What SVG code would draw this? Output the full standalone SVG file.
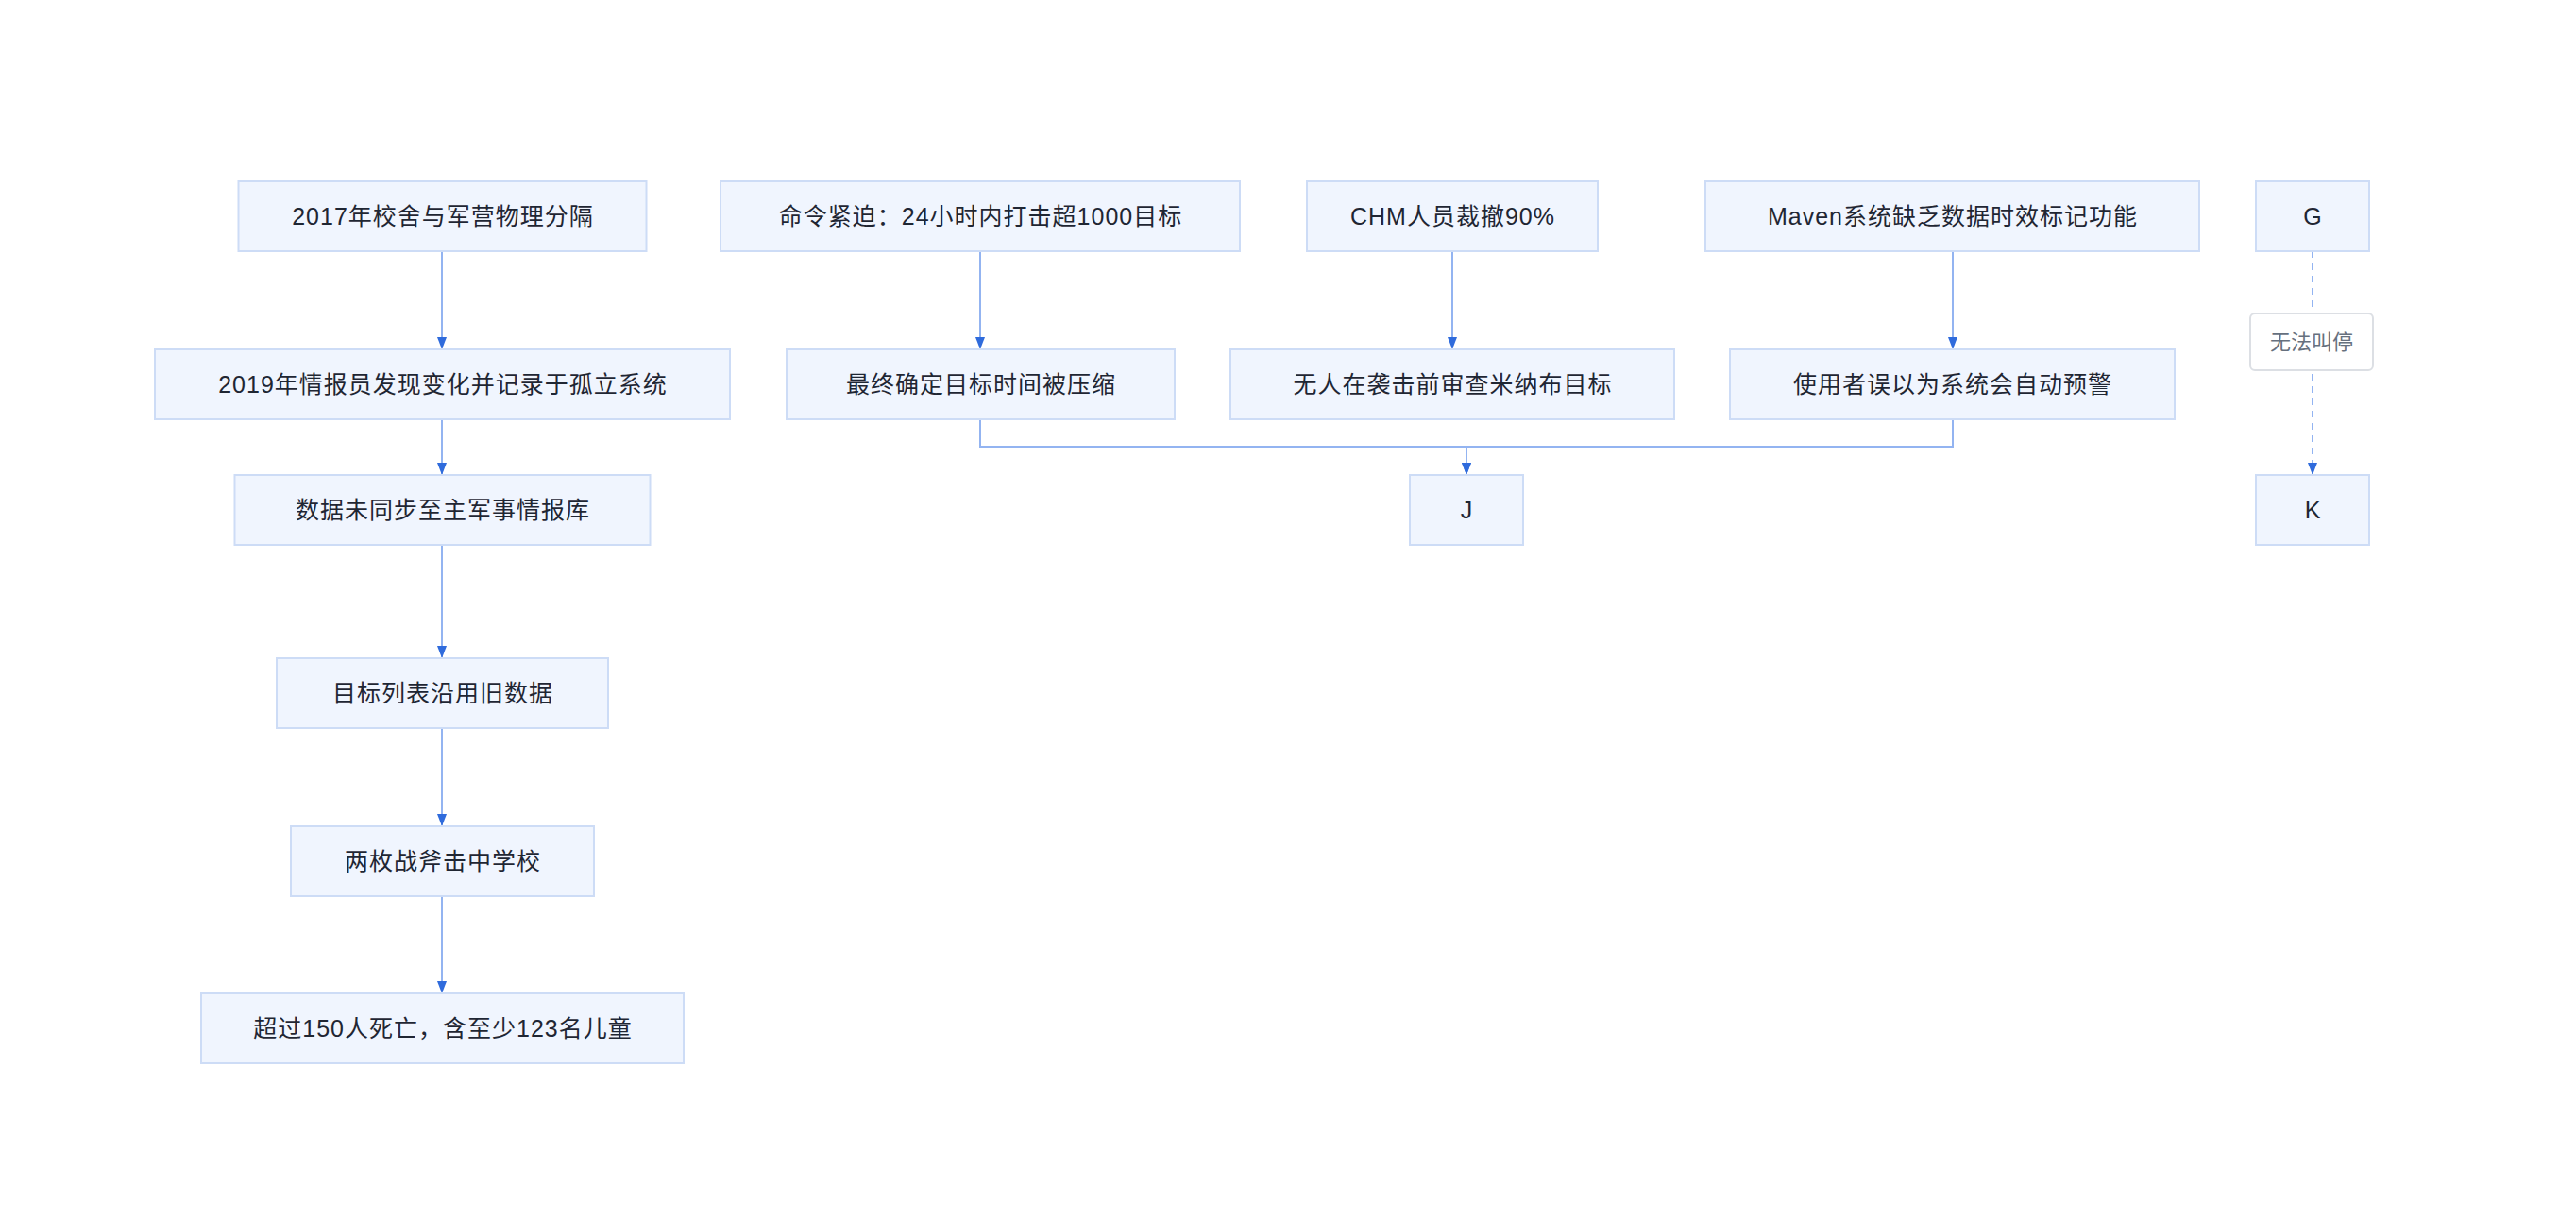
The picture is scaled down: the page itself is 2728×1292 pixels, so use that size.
<svg xmlns="http://www.w3.org/2000/svg" width="2728" height="1292" viewBox="0 0 2728 1292">
<style>
.node rect{fill:#f0f5fe;stroke:#cddcf6;stroke-width:2}
.node text{font-family:"Liberation Sans","Noto Sans CJK SC",sans-serif;font-size:25px;letter-spacing:1px;fill:#1f2633;text-anchor:middle}
.edge{fill:none;stroke:#93b4f1;stroke-width:2}
.dash{stroke-dasharray:7 6}
.lbl rect{fill:#ffffff;stroke:#dcdfe4;stroke-width:2}
.lbl text{font-family:"Liberation Sans","Noto Sans CJK SC",sans-serif;font-size:22px;fill:#66707e;text-anchor:middle}
</style>
<defs>
<marker id="arr" viewBox="0 0 13 10" refX="13" refY="5" markerWidth="13" markerHeight="10" markerUnits="userSpaceOnUse" orient="auto">
<path d="M0,0 L13,5 L0,10 z" fill="#2f6bdc"/>
</marker>
</defs>
<rect width="2728" height="1292" fill="#ffffff"/>
<g id="connectors">
<path class="edge" d="M468,266 V370" marker-end="url(#arr)"/>
<path class="edge" d="M468,444 V503" marker-end="url(#arr)"/>
<path class="edge" d="M468,577 V697" marker-end="url(#arr)"/>
<path class="edge" d="M468,771 V875" marker-end="url(#arr)"/>
<path class="edge" d="M468,949 V1052" marker-end="url(#arr)"/>
<path class="edge" d="M1038,266 V370" marker-end="url(#arr)"/>
<path class="edge" d="M1538,266 V370" marker-end="url(#arr)"/>
<path class="edge" d="M2068,266 V370" marker-end="url(#arr)"/>
<path class="edge" d="M1038,444 V473 H1553 V503" marker-end="url(#arr)"/>
<path class="edge" d="M2068,444 V473 H1553 V503" marker-end="url(#arr)"/>
<path class="edge dash" d="M2449,266 V503" marker-end="url(#arr)"/>
</g>
<g id="label-stop" class="lbl">
<rect x="2383" y="332" width="130" height="60" rx="5"/>
<text x="2448" y="370">无法叫停</text>
</g>
<g id="A" class="node"><rect x="252.5" y="192" width="432" height="74"/><text x="469" y="238">2017年校舍与军营物理分隔</text></g>
<g id="B" class="node"><rect x="164" y="370" width="609" height="74"/><text x="469" y="416">2019年情报员发现变化并记录于孤立系统</text></g>
<g id="C" class="node"><rect x="248.5" y="503" width="440" height="74"/><text x="469" y="549">数据未同步至主军事情报库</text></g>
<g id="D" class="node"><rect x="293" y="697" width="351" height="74"/><text x="469" y="743">目标列表沿用旧数据</text></g>
<g id="E" class="node"><rect x="308" y="875" width="321" height="74"/><text x="469" y="921">两枚战斧击中学校</text></g>
<g id="F" class="node"><rect x="213" y="1052" width="511" height="74"/><text x="469" y="1098">超过150人死亡，含至少123名儿童</text></g>
<g id="H1" class="node"><rect x="763" y="192" width="550" height="74"/><text x="1038.5" y="238">命令紧迫：24小时内打击超1000目标</text></g>
<g id="H2" class="node"><rect x="833" y="370" width="411" height="74"/><text x="1039" y="416">最终确定目标时间被压缩</text></g>
<g id="I1" class="node"><rect x="1384" y="192" width="308" height="74"/><text x="1538.5" y="238">CHM人员裁撤90%</text></g>
<g id="I2" class="node"><rect x="1303" y="370" width="470" height="74"/><text x="1538.5" y="416">无人在袭击前审查米纳布目标</text></g>
<g id="M1" class="node"><rect x="1806" y="192" width="523" height="74"/><text x="2068" y="238">Maven系统缺乏数据时效标记功能</text></g>
<g id="M2" class="node"><rect x="1832" y="370" width="471" height="74"/><text x="2068" y="416">使用者误以为系统会自动预警</text></g>
<g id="G" class="node"><rect x="2389" y="192" width="120" height="74"/><text x="2449.5" y="238">G</text></g>
<g id="J" class="node"><rect x="1493" y="503" width="120" height="74"/><text x="1553.5" y="549">J</text></g>
<g id="K" class="node"><rect x="2389" y="503" width="120" height="74"/><text x="2449.5" y="549">K</text></g>
</svg>
